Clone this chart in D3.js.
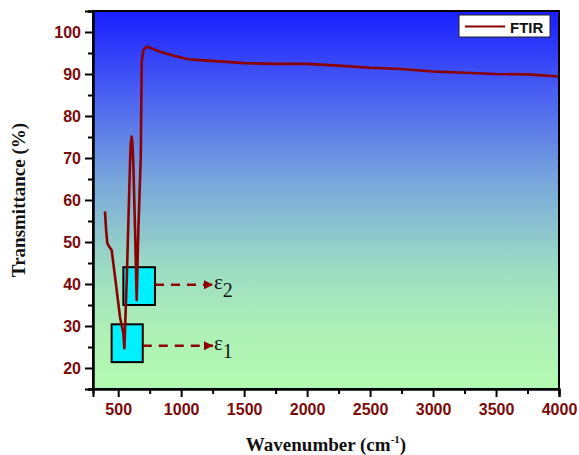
<!DOCTYPE html>
<html>
<head>
<meta charset="utf-8">
<script src="https://cdn.jsdelivr.net/npm/d3@7"></script>
<style>
  html, body { margin: 0; padding: 0; background: #ffffff; }
  svg { display: block; }
</style>
</head>
<body>
<svg id="chart" width="579" height="455"></svg>
<script>
// ---- data ----
const wavenumber = [395, 405, 414, 430, 448, 480, 514, 541, 549, 568, 594, 600, 607, 613, 620, 634, 647, 660, 670, 679, 687, 700, 713, 730, 747, 790, 832, 950, 1057, 1150, 1309, 1500, 1750, 2000, 2250, 2500, 2750, 3000, 3250, 3500, 3750, 4000];
const transmittance = [57.3, 52.5, 49.7, 48.8, 48.1, 40.5, 32.2, 28.3, 24.7, 41, 68.8, 73.6, 75.1, 73.6, 68.8, 52.9, 36.2, 52.9, 62, 70, 93, 95.6, 96.2, 96.5, 96.3, 95.8, 95.3, 94.3, 93.5, 93.3, 93.0, 92.6, 92.4, 92.4, 92.0, 91.5, 91.2, 90.6, 90.3, 90.0, 89.9, 89.4];
const xTicks = [500, 1000, 1500, 2000, 2500, 3000, 3500, 4000];
const yTicks = [20, 30, 40, 50, 60, 70, 80, 90, 100];
const seriesName = "FTIR";
// annotation boxes: [x0, x1, y0, y1] in data units
const boxLabels = ["1", "2"];
const boxX0 = [448, 541];
const boxX1 = [695, 792];
const boxY0 = [21.4, 35.0];
const boxY1 = [30.4, 44.0];
const arrowY = [25.3, 39.8];
const arrowTipX = 1253;

// ---- layout ----
const svg = d3.select("#chart");
const L = 93, T = 11, R = 559, B = 389;
const x = d3.scaleLinear().domain([300, 4000]).range([L, R]);
const y = d3.scaleLinear().domain([15, 105]).range([B, T]);
const red = "#8b0000";
const labelRed = "#7d0a0a";

const defs = svg.append("defs");
const grad = defs.append("linearGradient").attr("id", "bg").attr("x1", 0).attr("y1", 0).attr("x2", 0).attr("y2", 1);
[[0, "#1a1eff"], [0.22, "#4a60f2"], [0.45, "#78a6db"], [0.68, "#9cdcc4"], [0.85, "#aef0b6"], [1, "#b4fab2"]]
  .forEach(([o, c]) => grad.append("stop").attr("offset", o).attr("stop-color", c));
defs.append("marker").attr("id", "arr").attr("viewBox", "0 0 10 10").attr("refX", 10).attr("refY", 5)
  .attr("markerWidth", 7).attr("markerHeight", 3.6).attr("markerUnits", "strokeWidth").attr("orient", "auto")
  .append("path").attr("d", "M0,0 L10,5 L0,10 Z").attr("fill", red);

// background
svg.append("rect").attr("x", L).attr("y", T).attr("width", R - L).attr("height", B - T).attr("fill", "url(#bg)");

// annotation boxes
const g = svg.append("g");
boxLabels.forEach((lab, i) => {
  g.append("rect")
    .attr("x", x(boxX0[i])).attr("y", y(boxY1[i]))
    .attr("width", x(boxX1[i]) - x(boxX0[i])).attr("height", y(boxY0[i]) - y(boxY1[i]))
    .attr("fill", "#00f0ff").attr("stroke", "#000").attr("stroke-width", 2);
  g.append("line")
    .attr("x1", x(boxX1[i])).attr("x2", x(arrowTipX)).attr("y1", y(arrowY[i])).attr("y2", y(arrowY[i]))
    .attr("stroke", red).attr("stroke-width", 2.5).attr("stroke-dasharray", "9,7")
    .attr("marker-end", "url(#arr)");
  const t = g.append("text")
    .attr("x", x(arrowTipX) + 1).attr("y", y(arrowY[i]) + 4)
    .attr("font-family", "'Liberation Serif', 'Times New Roman', serif").attr("font-size", 21).attr("fill", "#111");
  t.append("tspan").text("ε");
  t.append("tspan").attr("dy", 8).attr("font-size", 20).text(lab);
});

// curve
const pts = wavenumber.map((w, i) => [w, transmittance[i]]);
svg.append("path").datum(pts)
  .attr("fill", "none").attr("stroke", red).attr("stroke-width", 2.6).attr("stroke-linejoin", "round")
  .attr("d", d3.line().x(d => x(d[0])).y(d => y(d[1])).curve(d3.curveLinear));

// frame
svg.append("rect").attr("x", L).attr("y", T).attr("width", R - L).attr("height", B - T)
  .attr("fill", "none").attr("stroke", "#000").attr("stroke-width", 2);

// axes
const font = "Arial, 'Liberation Sans', sans-serif";
const xAxis = svg.append("g").attr("transform", `translate(0,${B})`)
  .call(d3.axisBottom(x).tickValues(xTicks).tickSize(8).tickPadding(7).tickFormat(d3.format("d")));
const xMinor = svg.append("g").attr("transform", `translate(0,${B})`)
  .call(d3.axisBottom(x).tickValues(d3.range(750, 4000, 500)).tickSize(5).tickFormat(""));
const yAxis = svg.append("g").attr("transform", `translate(${L},0)`)
  .call(d3.axisLeft(y).tickValues(yTicks).tickSize(8).tickPadding(4).tickFormat(d3.format("d")));
const yMinor = svg.append("g").attr("transform", `translate(${L},0)`)
  .call(d3.axisLeft(y).tickValues(d3.range(15, 106, 10)).tickSize(5).tickFormat(""));
[xAxis, xMinor, yAxis, yMinor].forEach(a => {
  a.select(".domain").attr("stroke", "#000").attr("stroke-width", 2);
  a.selectAll(".tick line").attr("stroke", "#000").attr("stroke-width", 2);
  a.selectAll(".tick text").attr("font-family", font).attr("font-weight", "bold")
    .attr("font-size", 16).attr("fill", labelRed);
});

// axis titles
const serif = "'Liberation Serif', 'Times New Roman', serif";
const xt = svg.append("text").attr("x", (L + R) / 2).attr("y", 451).attr("text-anchor", "middle")
  .attr("font-family", serif).attr("font-weight", "bold").attr("font-size", 19).attr("fill", "#111");
xt.append("tspan").text("Wavenumber (cm");
xt.append("tspan").attr("font-size", 11).attr("dy", -8).text("-1");
xt.append("tspan").attr("dy", 8).text(")");
svg.append("text").attr("transform", `translate(25,${(T + B) / 2}) rotate(-90)`).attr("text-anchor", "middle")
  .attr("font-family", serif).attr("font-weight", "bold").attr("font-size", 19).attr("fill", "#111")
  .text("Transmittance (%)");

// legend
const lg = svg.append("g");
lg.append("rect").attr("x", 459).attr("y", 15).attr("width", 91).attr("height", 22)
  .attr("fill", "#fff").attr("stroke", "#222").attr("stroke-width", 1);
lg.append("line").attr("x1", 465).attr("x2", 505).attr("y1", 26.5).attr("y2", 26.5)
  .attr("stroke", red).attr("stroke-width", 2.2);
lg.append("text").attr("x", 510).attr("y", 32.5).attr("font-family", font).attr("font-weight", "bold")
  .attr("font-size", 15).attr("fill", "#111").text(seriesName);
</script>
</body>
</html>
